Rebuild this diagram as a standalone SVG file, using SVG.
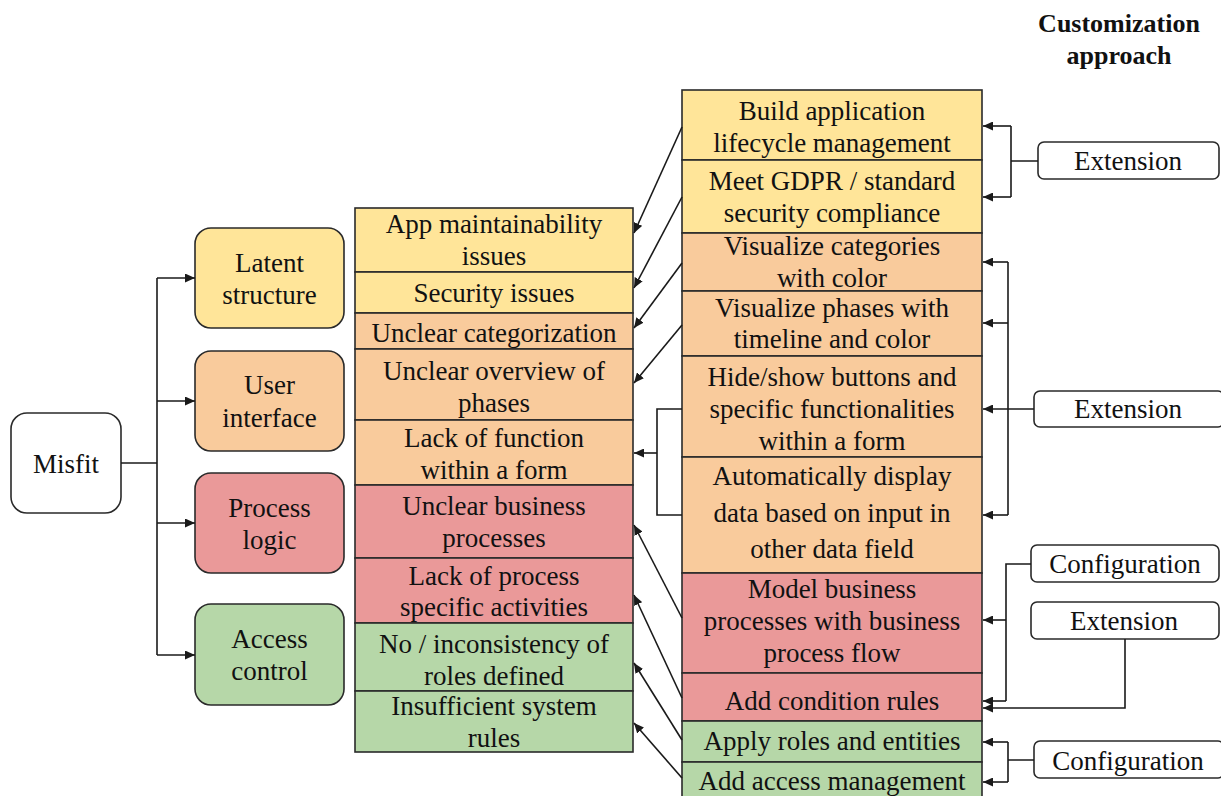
<svg xmlns="http://www.w3.org/2000/svg" width="1221" height="796" viewBox="0 0 1221 796">
  <defs>
    <marker id="arrow" markerUnits="userSpaceOnUse" markerWidth="11" markerHeight="9" refX="10" refY="4.5" orient="auto">
      <path d="M0,0 L10,4.5 L0,9 z" fill="#1a1a1a"/>
    </marker>
    <style>
      .lbl { font-family: 'Liberation Serif', 'Times New Roman', serif; font-size: 27px; fill: #111; text-anchor: middle; }
      .title { font-family: 'Liberation Serif', 'Times New Roman', serif; font-weight: bold; font-size: 26px; fill: #111; text-anchor: middle; }
      .box { stroke: #2a2a2a; stroke-width: 1.6; }
      .white { fill: #ffffff; }
      .yellow { fill: #ffe599; }
      .orange { fill: #f9cb9c; }
      .red { fill: #ea9999; }
      .green { fill: #b6d7a8; }
      .link { fill: none; stroke: #1a1a1a; stroke-width: 1.6; }
      .arr { marker-end: url(#arrow); }
    </style>
  </defs>

  <rect width="1221" height="796" fill="#ffffff"/>

  <!-- heading -->
  <text class="title" x="1119" y="32">Customization</text>
  <text class="title" x="1119" y="64">approach</text>

  <!-- root -->
  <g id="misfit">
    <rect class="box white" x="11" y="413" width="110" height="100" rx="16"/>
    <text class="lbl" x="66" y="473">Misfit</text>
  </g>

  <!-- misfit categories -->
  <g id="latent-structure">
    <rect class="box yellow" x="195" y="228" width="149" height="100" rx="16"/>
    <text class="lbl" x="269.5" y="272">Latent</text>
    <text class="lbl" x="269.5" y="304">structure</text>
  </g>
  <g id="user-interface">
    <rect class="box orange" x="195" y="351" width="149" height="100" rx="16"/>
    <text class="lbl" x="269.5" y="394">User</text>
    <text class="lbl" x="269.5" y="427">interface</text>
  </g>
  <g id="process-logic">
    <rect class="box red" x="195" y="473" width="149" height="100" rx="16"/>
    <text class="lbl" x="269.5" y="517">Process</text>
    <text class="lbl" x="269.5" y="549">logic</text>
  </g>
  <g id="access-control">
    <rect class="box green" x="195" y="604" width="149" height="101" rx="16"/>
    <text class="lbl" x="269.5" y="648">Access</text>
    <text class="lbl" x="269.5" y="680">control</text>
  </g>

  <!-- misfit issues -->
  <g id="app-maintainability">
    <rect class="box yellow" x="355" y="208" width="278" height="64"/>
    <text class="lbl" x="494" y="233">App maintainability</text>
    <text class="lbl" x="494" y="265">issues</text>
  </g>
  <g id="security-issues">
    <rect class="box yellow" x="355" y="272" width="278" height="41"/>
    <text class="lbl" x="494" y="302">Security issues</text>
  </g>
  <g id="unclear-categorization">
    <rect class="box orange" x="355" y="313" width="278" height="36"/>
    <text class="lbl" x="494" y="342">Unclear categorization</text>
  </g>
  <g id="unclear-overview">
    <rect class="box orange" x="355" y="349" width="278" height="71"/>
    <text class="lbl" x="494" y="380">Unclear overview of</text>
    <text class="lbl" x="494" y="412">phases</text>
  </g>
  <g id="lack-of-function">
    <rect class="box orange" x="355" y="420" width="278" height="65"/>
    <text class="lbl" x="494" y="447">Lack of function</text>
    <text class="lbl" x="494" y="479">within a form</text>
  </g>
  <g id="unclear-business">
    <rect class="box red" x="355" y="485" width="278" height="73"/>
    <text class="lbl" x="494" y="515">Unclear business</text>
    <text class="lbl" x="494" y="547">processes</text>
  </g>
  <g id="lack-of-process">
    <rect class="box red" x="355" y="558" width="278" height="65"/>
    <text class="lbl" x="494" y="585">Lack of process</text>
    <text class="lbl" x="494" y="616">specific activities</text>
  </g>
  <g id="roles-defined">
    <rect class="box green" x="355" y="623" width="278" height="68"/>
    <text class="lbl" x="494" y="653">No / inconsistency of</text>
    <text class="lbl" x="494" y="685">roles defined</text>
  </g>
  <g id="system-rules">
    <rect class="box green" x="355" y="691" width="278" height="61"/>
    <text class="lbl" x="494" y="715">Insufficient system</text>
    <text class="lbl" x="494" y="747">rules</text>
  </g>

  <!-- customizations -->
  <g id="lifecycle-management">
    <rect class="box yellow" x="682" y="90" width="300" height="70"/>
    <text class="lbl" x="832" y="120">Build application</text>
    <text class="lbl" x="832" y="152">lifecycle management</text>
  </g>
  <g id="gdpr-compliance">
    <rect class="box yellow" x="682" y="160" width="300" height="73"/>
    <text class="lbl" x="832" y="190">Meet GDPR / standard</text>
    <text class="lbl" x="832" y="222">security compliance</text>
  </g>
  <g id="visualize-categories">
    <rect class="box orange" x="682" y="233" width="300" height="58"/>
    <text class="lbl" x="832" y="255">Visualize categories</text>
    <text class="lbl" x="832" y="287">with color</text>
  </g>
  <g id="visualize-phases">
    <rect class="box orange" x="682" y="291" width="300" height="65"/>
    <text class="lbl" x="832" y="317">Visualize phases with</text>
    <text class="lbl" x="832" y="348">timeline and color</text>
  </g>
  <g id="hide-show-buttons">
    <rect class="box orange" x="682" y="356" width="300" height="101"/>
    <text class="lbl" x="832" y="386">Hide/show buttons and</text>
    <text class="lbl" x="832" y="418">specific functionalities</text>
    <text class="lbl" x="832" y="450">within a form</text>
  </g>
  <g id="auto-display">
    <rect class="box orange" x="682" y="457" width="300" height="116"/>
    <text class="lbl" x="832" y="485">Automatically display</text>
    <text class="lbl" x="832" y="522">data based on input in</text>
    <text class="lbl" x="832" y="558">other data field</text>
  </g>
  <g id="model-business-processes">
    <rect class="box red" x="682" y="573" width="300" height="100"/>
    <text class="lbl" x="832" y="598">Model business</text>
    <text class="lbl" x="832" y="630">processes with business</text>
    <text class="lbl" x="832" y="662">process flow</text>
  </g>
  <g id="condition-rules">
    <rect class="box red" x="682" y="673" width="300" height="48"/>
    <text class="lbl" x="832" y="710">Add condition rules</text>
  </g>
  <g id="roles-entities">
    <rect class="box green" x="682" y="721" width="300" height="41"/>
    <text class="lbl" x="832" y="750">Apply roles and entities</text>
  </g>
  <g id="access-management">
    <rect class="box green" x="682" y="762" width="300" height="40"/>
    <text class="lbl" x="832" y="790">Add access management</text>
  </g>

  <!-- customization approaches -->
  <g id="extension-1">
    <rect class="box white" x="1038" y="142" width="181" height="37" rx="6"/>
    <text class="lbl" x="1128" y="170">Extension</text>
  </g>
  <g id="extension-2">
    <rect class="box white" x="1034" y="391" width="190" height="36" rx="6"/>
    <text class="lbl" x="1128" y="418">Extension</text>
  </g>
  <g id="configuration-1">
    <rect class="box white" x="1031" y="545" width="188" height="37" rx="6"/>
    <text class="lbl" x="1125" y="573">Configuration</text>
  </g>
  <g id="extension-3">
    <rect class="box white" x="1031" y="602" width="188" height="37" rx="6"/>
    <text class="lbl" x="1124" y="630">Extension</text>
  </g>
  <g id="configuration-2">
    <rect class="box white" x="1034" y="741" width="190" height="37" rx="6"/>
    <text class="lbl" x="1128" y="770">Configuration</text>
  </g>

  <!-- connectors -->
  <g id="connectors">
    <!-- misfit to categories -->
    <path class="link" d="M121,463 H157" stroke-width="2.6"/>
    <path class="link" d="M157,278 V655"/>
    <path class="link arr" d="M157,278 H195"/>
    <path class="link arr" d="M157,401 H195"/>
    <path class="link arr" d="M157,523 H195"/>
    <path class="link arr" d="M157,655 H195"/>

    <!-- customizations to issues -->
    <path class="link arr" d="M682,127 L634,233"/>
    <path class="link arr" d="M682,197 L634,288"/>
    <path class="link arr" d="M682,263 L634,328"/>
    <path class="link arr" d="M682,325 L634,383"/>
    <path class="link" d="M682,409 H657 V515 H682"/>
    <path class="link arr" d="M657,453 H634"/>
    <path class="link arr" d="M682,618 L634,525"/>
    <path class="link arr" d="M682,698 L634,595"/>
    <path class="link arr" d="M682,740 L634,663"/>
    <path class="link arr" d="M682,778 L634,723"/>

    <!-- approaches to customizations -->
    <path class="link" d="M1038,161 H1011 M1011,126 V197"/>
    <path class="link arr" d="M1011,126 H983"/>
    <path class="link arr" d="M1011,197 H983"/>

    <path class="link" d="M1008,262 V515"/>
    <path class="link arr" d="M1008,262 H983"/>
    <path class="link arr" d="M1008,323 H983"/>
    <path class="link arr" d="M1034,409 H983"/>
    <path class="link arr" d="M1008,515 H983"/>

    <path class="link" d="M1031,564 H1006 V701"/>
    <path class="link arr" d="M1006,620 H983"/>
    <path class="link arr" d="M1006,701 H983"/>

    <path class="link arr" d="M1125,639 V708 H983"/>

    <path class="link" d="M1034,760 H1008 M1008,742 V782"/>
    <path class="link arr" d="M1008,742 H983"/>
    <path class="link arr" d="M1008,782 H983"/>
  </g>
</svg>
